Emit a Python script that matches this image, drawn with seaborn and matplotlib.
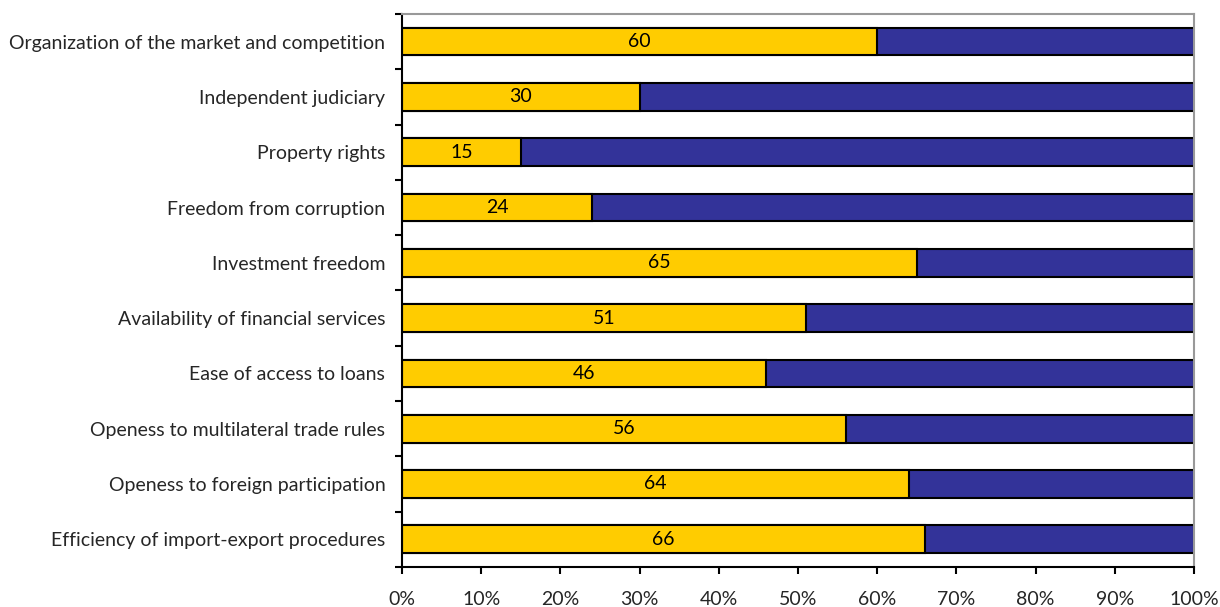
import numpy as np
import pandas as pd
import matplotlib
matplotlib.use("Agg")
import matplotlib.pyplot as plt
import seaborn as sns

# data (share of yellow segment, in %)
categories = [
    "Organization of the market and competition",
    "Independent judiciary",
    "Property rights",
    "Freedom from corruption",
    "Investment freedom",
    "Availability of financial services",
    "Ease of access to loans",
    "Openess to multilateral trade rules",
    "Openess to foreign participation",
    "Efficiency of import-export procedures",
]
scores = [60, 30, 15, 24, 65, 51, 46, 56, 64, 66]
totals = [100] * len(categories)

sns.set_style("white")
plt.rcParams["font.family"] = ["Lato", "DejaVu Sans"]

df = pd.DataFrame({"category": categories, "score": scores, "total": totals})

fig = plt.figure(figsize=(12.2, 6.07), dpi=100)
ax = fig.add_axes([0.3295, 0.066, 0.6492, 0.911])

# blue remainder drawn as full bar, yellow share on top
sns.barplot(data=df, x="total", y="category", orient="h", color="#333399",
            saturation=1, width=0.5, edgecolor="black", linewidth=1.5, ax=ax)
sns.barplot(data=df, x="score", y="category", orient="h", color="#FFCC00",
            saturation=1, width=0.5, edgecolor="black", linewidth=1.5, ax=ax)

ax.bar_label(ax.containers[1], labels=[str(v) for v in scores],
             label_type="center", fontsize=14, color="black")

ax.set_xlim(0, 100)
ax.set_ylim(len(categories) - 0.5, -0.5)
ax.set_xticks(np.arange(0, 101, 10))
ax.set_xticklabels([f"{v}%" for v in range(0, 101, 10)], fontsize=14)
ax.tick_params(axis="x", bottom=True, direction="out", length=5, width=1.5,
               color="black", pad=12)

ax.tick_params(axis="y", which="major", left=True, length=0, labelsize=14, pad=12)
ax.set_yticks(np.arange(-0.5, len(categories)), minor=True)
ax.tick_params(axis="y", which="minor", left=True, direction="out", length=5,
               width=1.5, color="black")

ax.set_xlabel("")
ax.set_ylabel("")

for side in ["left", "bottom"]:
    ax.spines[side].set_color("black")
    ax.spines[side].set_linewidth(1.5)
for side in ["top", "right"]:
    ax.spines[side].set_color("#999999")
    ax.spines[side].set_linewidth(1.5)

fig.savefig("out.png", dpi=100)
